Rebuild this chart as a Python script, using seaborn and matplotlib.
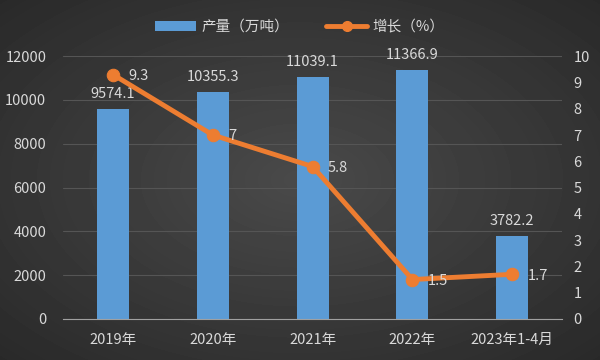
import matplotlib.pyplot as plt
import numpy as np
import seaborn as sns
from matplotlib.lines import Line2D
from matplotlib.patches import Patch

years = ['2019年', '2020年', '2021年', '2022年', '2023年1-4月']
output = [9574.1, 10355.3, 11039.1, 11366.9, 3782.2]
growth = [9.3, 7, 5.8, 1.5, 1.7]
growth_labels = ['9.3', '7', '5.8', '1.5', '1.7']

sns.set_style('dark')
plt.rcParams['font.family'] = ['Noto Sans CJK SC', 'DejaVu Sans']
txt = '#d9d9d9'
blue = '#5b9bd5'
orange = '#ed7d31'

fig = plt.figure(figsize=(6, 3.6), dpi=100)

# dark radial background
bg = fig.add_axes([0, 0, 1, 1], zorder=-10)
yy, xx = np.mgrid[-1:1:360j, -1:1:600j]
r = np.sqrt(xx ** 2 + yy ** 2)
bg.imshow(0.29 - 0.09 * r, cmap='gray', vmin=0, vmax=1, aspect='auto')
bg.axis('off')

ax = fig.add_axes([0.105, 0.114, 0.832, 0.73])
ax.set_facecolor('none')
sns.barplot(x=years, y=output, ax=ax, color=blue, width=0.32, saturation=1,
            edgecolor='none', linewidth=0)
ax.set_ylim(0, 12000)
ax.set_yticks(range(0, 12001, 2000))
ax.set_xlim(-0.5, 4.5)
ax.grid(axis='y', color='#555555', linewidth=0.8)
ax.set_axisbelow(True)
for s in ['top', 'right', 'left']:
    ax.spines[s].set_visible(False)
ax.spines['bottom'].set_color('#a0a0a0')
ax.tick_params(colors=txt, labelsize=10.5, length=0)
ax.tick_params(axis='x', pad=10)
ax.tick_params(axis='y', pad=12)
for i, v in enumerate(output):
    ax.annotate(f'{v:.1f}', (i, v), xytext=(0, 6), textcoords='offset points',
                ha='center', va='bottom', color=txt, fontsize=10.5)

ax2 = ax.twinx()
sns.lineplot(x=years, y=growth, ax=ax2, color=orange, linewidth=3.5,
             marker='o', markersize=9, markeredgecolor=orange, sort=False)
ax2.set_ylim(0, 10)
ax2.set_yticks(range(0, 11))
for s in ax2.spines.values():
    s.set_visible(False)
ax2.tick_params(colors=txt, labelsize=10.5, length=0, pad=8)
ax2.grid(False)
for i, v in enumerate(growth):
    ax2.annotate(growth_labels[i], (i, v), xytext=(11, -1), textcoords='offset points',
                 ha='left', va='center', color=txt, fontsize=10.5)

handles = [Patch(facecolor=blue, edgecolor='none', label='产量（万吨）'),
           Line2D([0], [0], color=orange, lw=3.5, marker='o', markersize=7, label='增长（%）')]
fig.legend(handles=handles, loc='center', bbox_to_anchor=(0.5, 0.925), ncol=2,
           frameon=False, fontsize=10.5, labelcolor=txt, handlelength=2.8,
           handletextpad=0.4, columnspacing=2.5)

fig.savefig('out.png', dpi=100)
